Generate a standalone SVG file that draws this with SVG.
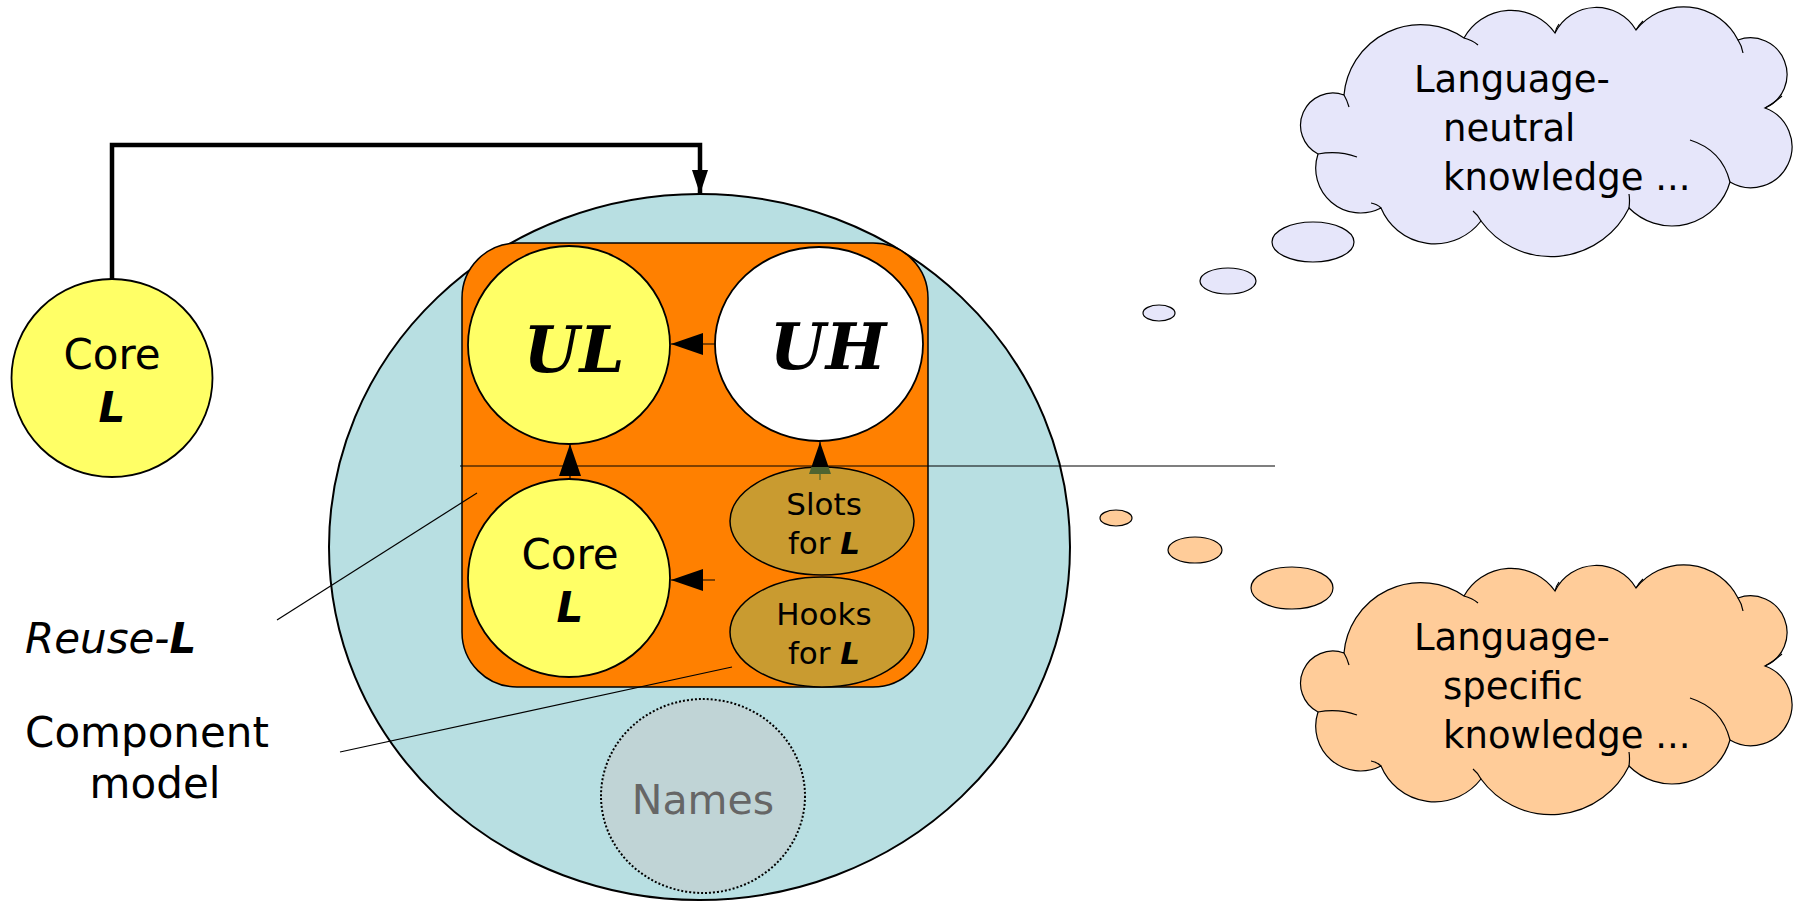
<svg xmlns="http://www.w3.org/2000/svg" xmlns:xlink="http://www.w3.org/1999/xlink" width="1806" height="904" viewBox="0 0 1806 904">
<style>
text{font-family:"DejaVu Sans",Verdana,sans-serif;fill:#000}
.t42{font-size:42px}
.t31{font-size:31px}
.t37{font-size:37px}
.bi{font-weight:bold;font-style:italic}
.it{font-style:italic}
.script{font-family:"DejaVu Serif","Liberation Serif",serif;font-weight:bold;font-style:italic;font-size:64px}
.yel{fill:#ffff66;stroke:#000;stroke-width:1.8}
.brown{fill:#c99b30;stroke:#000;stroke-width:1.5}
.thin{stroke:#000;stroke-width:1.2;fill:none}
.cl{stroke:#000;stroke-width:1.2}
.frag{fill:none;stroke:#000;stroke-width:1.2}
</style>
<defs>
<marker id="tri" markerUnits="userSpaceOnUse" viewBox="0 0 32 22" markerWidth="32" markerHeight="22" refX="32" refY="11" orient="auto">
<path d="M0,0 L32,11 L0,22 Z" fill="#000"/>
</marker>
<marker id="triBig" markerUnits="userSpaceOnUse" viewBox="0 0 24 16" markerWidth="24" markerHeight="16" refX="24" refY="8" orient="auto">
<path d="M0,0 L24,8 L0,16 Z" fill="#000"/>
</marker>
<g id="cloudShape">
<path class="cl" d="M1344,95 A77,77 0 0 1 1464,38 A53.9,53.9 0 0 1 1555,33 A46.2,46.2 0 0 1 1636,30 A60.9,60.9 0 0 1 1738,40 A36.6,36.6 0 0 1 1765,108 A41.1,41.1 0 1 1 1730,182 A60.3,60.3 0 0 1 1629,208 A86.7,86.7 0 0 1 1481,221 A58.3,58.3 0 0 1 1381,208 A44.8,44.8 0 0 1 1318,154 A32.3,32.3 0 0 1 1344,95 Z"/>
<path class="frag" d="M1344,95 q3,5 5,12 M1464,38 q8,2 14,7 M1555,33 q1,-5 4,-9 M1636,30 q3,-5 7,-9 M1738,40 q4,6 5,13 M1765,108 q9,-5 17,-12 M1730,182 Q1722,150 1690,140 M1629,208 q1,-8 0,-14 M1481,221 q-3,-6 -8,-10 M1381,208 q-4,-4 -10,-5 M1318,154 Q1338,150 1357,157"/>
</g>
</defs>

<!-- big container circle -->
<g id="reuse-container">
<ellipse cx="699.5" cy="547" rx="370.5" ry="353" fill="#b8dfe2" stroke="#000" stroke-width="2"/>
</g>

<g id="component-model">
<rect x="462" y="243" width="466" height="444" rx="55" ry="55" fill="#ff8000" stroke="#000" stroke-width="1.5"/>
</g>

<g id="core-l-outer">
<ellipse class="yel" cx="112" cy="378" rx="100.5" ry="99"/>
<text class="t42" x="112" y="369" text-anchor="middle">Core</text>
<text class="t42 bi" x="112" y="422" text-anchor="middle">L</text>
</g>

<g id="ul">
<ellipse class="yel" cx="569" cy="345" rx="101" ry="99"/>
<text class="script" x="574" y="372" text-anchor="middle">UL</text>
</g>

<g id="uh">
<ellipse cx="819" cy="344" rx="104" ry="97" fill="#fff" stroke="#000" stroke-width="1.8"/>
<text class="script" x="828" y="369" text-anchor="middle">UH</text>
</g>

<g id="core-l-inner">
<ellipse class="yel" cx="569" cy="578" rx="101" ry="99"/>
<text class="t42" x="570" y="569" text-anchor="middle">Core</text>
<text class="t42 bi" x="570" y="622" text-anchor="middle">L</text>
</g>

<g id="names">
<ellipse cx="703" cy="796" rx="102" ry="97" fill="#c0d4d6" stroke="#000" stroke-width="2" stroke-dasharray="2 2"/>
<text x="703" y="814" text-anchor="middle" style="font-size:41px;fill:#666">Names</text>
</g>

<g id="connectors">
<path d="M112,279 V145 H700 V194" fill="none" stroke="#000" stroke-width="4.5" marker-end="url(#triBig)"/>
<line x1="716" y1="344" x2="671" y2="344" stroke="#000" stroke-width="1.2" marker-end="url(#tri)"/>
<line x1="570" y1="480" x2="570" y2="444" stroke="#000" stroke-width="1.2" marker-end="url(#tri)"/>
<line x1="820" y1="474" x2="820" y2="442" stroke="#000" stroke-width="1.2" marker-end="url(#tri)"/>
<line x1="715" y1="580" x2="671" y2="580" stroke="#000" stroke-width="1.2" marker-end="url(#tri)"/>
<line class="thin" x1="460" y1="466" x2="1275" y2="466"/>
<line class="thin" x1="277" y1="620" x2="477" y2="493"/>
<line class="thin" x1="340" y1="752" x2="732" y2="667"/>
</g>

<g id="slots">
<ellipse class="brown" cx="822" cy="521" rx="92" ry="54"/>
<polygon points="811.4,467 828.6,467 831,474 809,474" fill="#4f6430"/>
<line x1="820" y1="474" x2="820" y2="480" stroke="#4f6430" stroke-width="1.2"/>
<text class="t31" x="824" y="515" text-anchor="middle">Slots</text>
<text class="t31" x="824" y="554" text-anchor="middle">for <tspan class="bi">L</tspan></text>
</g>

<g id="hooks">
<ellipse class="brown" cx="822" cy="632" rx="92" ry="55"/>
<text class="t31" x="824" y="625" text-anchor="middle">Hooks</text>
<text class="t31" x="824" y="664" text-anchor="middle">for <tspan class="bi">L</tspan></text>
</g>

<g id="label-reuse">
<text class="t42" x="25" y="653"><tspan class="it">Reuse-</tspan><tspan class="bi">L</tspan></text>
</g>

<g id="label-component">
<text class="t42" x="147" y="747" text-anchor="middle">Component</text>
<text class="t42" x="155" y="798" text-anchor="middle">model</text>
</g>

<g id="cloud-neutral">
<g fill="#e6e6fa" stroke="#000" stroke-width="1.2">
<ellipse cx="1159" cy="313" rx="16" ry="8"/>
<ellipse cx="1228" cy="281" rx="28" ry="13"/>
<ellipse cx="1313" cy="242" rx="41" ry="20"/>
</g>
<use xlink:href="#cloudShape" fill="#e6e6fa"/>
<text class="t37" x="1414" y="92">Language-</text>
<text class="t37" x="1443" y="141">neutral</text>
<text class="t37" x="1443" y="190">knowledge ...</text>
</g>

<g id="cloud-specific">
<g fill="#ffcc99" stroke="#000" stroke-width="1.2">
<ellipse cx="1116" cy="518" rx="16" ry="8"/>
<ellipse cx="1195" cy="550" rx="27" ry="13"/>
<ellipse cx="1292" cy="588" rx="41" ry="21"/>
</g>
<use xlink:href="#cloudShape" transform="translate(0,558)" fill="#ffcc99"/>
<text class="t37" x="1414" y="650">Language-</text>
<text class="t37" x="1443" y="699">specific</text>
<text class="t37" x="1443" y="748">knowledge ...</text>
</g>
</svg>
